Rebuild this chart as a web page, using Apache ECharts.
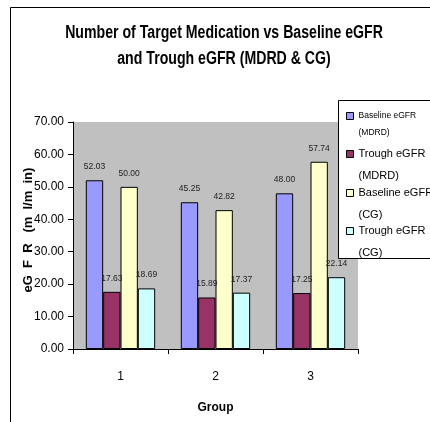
<!DOCTYPE html>
<html>
<head>
    <meta charset="utf-8">
    <title>Number of Target Medication vs Baseline eGFR and Trough eGFR</title>
    <script src="https://cdn.jsdelivr.net/npm/echarts@6/dist/echarts.min.js"></script>
    <style>
        html, body { margin: 0; padding: 0; background: #fff; }
        #chart { width: 430px; height: 422px; }
    </style>
</head>
<body>
    <div id="chart"></div>
    <script>
        // data
        var groups = ['1', '2', '3'];
        var seriesNames = ['Baseline eGFR (MDRD)', 'Trough eGFR (MDRD)', 'Baseline eGFR (CG)', 'Trough eGFR (CG)'];
        var baselineMDRD = [52.03, 45.25, 48.00];
        var troughMDRD = [17.63, 15.89, 17.25];
        var baselineCG = [50.00, 42.82, 57.74];
        var troughCG = [18.69, 17.37, 22.14];
        var yMin = 0, yMax = 70, yStep = 10;

        var FONT = "'Liberation Sans', Arial, sans-serif";
        var colors = ['#9999ff', '#993366', '#ffffcc', '#ccffff'];
        var values = [baselineMDRD, troughMDRD, baselineCG, troughCG];

        // one legend per entry so each can sit where the original put it
        // (a blank first line makes the marker line up with the first text line)
        var legendFont = [8.5, 11, 11, 11];
        var legendLine = [17, 22, 22, 22];
        var legendMid = [116, 154, 193, 231];

        var legends = seriesNames.map(function (name, i) {
            var L = legendLine[i];
            return {
                data: [name],
                orient: 'vertical',
                left: 346,
                top: legendMid[i] - 1.5 * L,
                padding: 0,
                itemWidth: 7,
                itemHeight: 7,
                icon: 'rect',
                z: 10,
                itemStyle: { borderColor: '#000', borderWidth: 1 },
                formatter: function (n) { return ' \n' + n.replace(' (', '\n('); },
                textStyle: {
                    fontFamily: FONT,
                    fontSize: legendFont[i],
                    lineHeight: L,
                    color: '#000'
                }
            };
        });

        var series = seriesNames.map(function (name, i) {
            return {
                name: name,
                type: 'bar',
                data: values[i],
                barGap: '0%',
                barCategoryGap: '27%',
                itemStyle: { color: colors[i], borderColor: '#000', borderWidth: 1 },
                label: {
                    show: true,
                    position: 'top',
                    distance: 9,
                    fontFamily: FONT,
                    fontSize: 8.5,
                    color: '#222',
                    formatter: function (p) { return p.value.toFixed(2); }
                }
            };
        });

        var myChart = echarts.init(document.getElementById('chart'));
        var option = {
            animation: false,
            backgroundColor: '#fff',
            graphic: [
                {
                    type: 'rect', silent: true, z: 0,
                    shape: { x: 10.5, y: 7.5, width: 500, height: 500 },
                    style: { fill: 'none', stroke: '#000', lineWidth: 1 }
                },
                {
                    // title, squeezed sideways like the original
                    type: 'text', silent: true, z: 5,
                    x: 224, y: 20, scaleX: 0.785,
                    style: {
                        text: 'Number of Target Medication vs Baseline eGFR\nand Trough eGFR (MDRD & CG)',
                        x: 0, y: 0,
                        align: 'center', verticalAlign: 'top',
                        fontFamily: FONT, fontWeight: 'bold', fontSize: 18, lineHeight: 26,
                        fill: '#000'
                    }
                },
                {
                    type: 'rect', silent: true, z: 5,
                    shape: { x: 338.5, y: 100.5, width: 200, height: 158 },
                    style: { fill: '#fff', stroke: '#000', lineWidth: 1 }
                }
            ],
            legend: legends,
            grid: {
                left: 73, right: 72, top: 122, bottom: 73,
                show: true, backgroundColor: '#c0c0c0', borderWidth: 0
            },
            xAxis: {
                type: 'category',
                data: groups,
                name: 'Group',
                nameLocation: 'middle',
                nameGap: 53,
                nameMoveOverlap: false,
                nameTextStyle: { fontFamily: FONT, fontWeight: 'bold', fontSize: 12, color: '#000' },
                axisLine: { lineStyle: { color: '#000', width: 1 } },
                axisTick: { show: true, length: 5, lineStyle: { color: '#000' } },
                axisLabel: { margin: 22, fontFamily: FONT, fontSize: 12, color: '#000' },
                splitLine: { show: false }
            },
            yAxis: {
                type: 'value',
                min: yMin, max: yMax, interval: yStep,
                name: '   eG  F  R   (m  l/m  in)',
                nameLocation: 'middle',
                nameGap: 38,
                nameMoveOverlap: false,
                nameTextStyle: { fontFamily: FONT, fontWeight: 'bold', fontSize: 13, color: '#000' },
                axisLine: { show: true, lineStyle: { color: '#000', width: 1 } },
                axisTick: { show: true, length: 5, lineStyle: { color: '#000' } },
                axisLabel: {
                    margin: 9, fontFamily: FONT, fontSize: 12, color: '#000',
                    formatter: function (v) { return v.toFixed(2); }
                },
                splitLine: { show: false }
            },
            series: series
        };
        myChart.setOption(option);
    </script>
</body>
</html>
